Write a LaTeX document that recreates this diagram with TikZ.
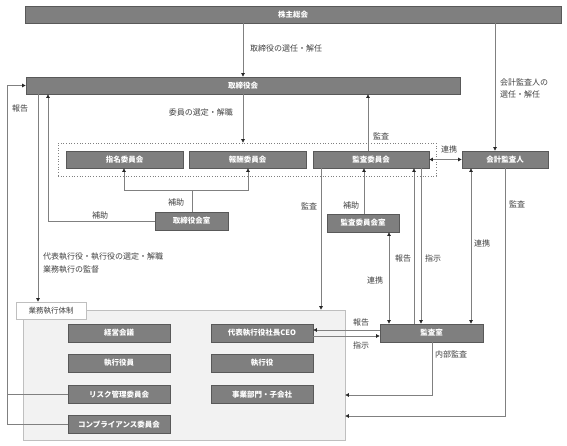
\documentclass[tikz,border=0pt]{standalone}
\usepackage{fontspec}
\setmainfont{Noto Sans CJK JP}
\usetikzlibrary{arrows.meta,calc}
\definecolor{boxfill}{HTML}{7F7F7F}
\definecolor{boxline}{HTML}{595959}
\definecolor{connc}{HTML}{808080}
\definecolor{txt}{HTML}{404040}
\definecolor{panelc}{HTML}{F2F2F2}
\definecolor{panelline}{HTML}{BFBFBF}
\begin{document}
\begin{tikzpicture}[x=1pt,y=-1pt,
  box/.style={draw=boxline, fill=boxfill, line width=0.8pt, text=white,
    font=\fontsize{7.5}{8}\selectfont\bfseries, inner sep=0pt, minimum height=17pt},
  lbl/.style={text=txt, font=\fontsize{8}{12.5}\selectfont, inner sep=0pt, anchor=west, align=left},
  conn/.style={draw=connc, line width=0.7pt},
  arr/.style={conn, -{Triangle[length=3.5pt,width=3.5pt,color=black!85]}},
  arrb/.style={conn, {Triangle[length=3.5pt,width=3.5pt,color=black!85]}-{Triangle[length=3.5pt,width=3.5pt,color=black!85]}}
]
\useasboundingbox (0,0) rectangle (567,446);

% column / row helper coordinates
\foreach \n/\x in {a/243, b/495, c/368, d/192, e/124, f/248, g/48, h/38, i/7, j/321, k/364, l/389, m/414, n/421, o/471, p/505, q/432}
  \coordinate (X\n) at (\x,0);
\foreach \y in {190,330,336,395,416}
  \coordinate (Y\y) at (0,\y);

% execution panel
\node[draw=panelline, fill=panelc, line width=0.7pt, minimum width=322pt, minimum height=130pt, inner sep=0pt] (panel) at (184,375) {};
\node[draw=panelline, fill=white, line width=0.7pt, minimum width=70pt, minimum height=17pt, inner sep=0pt,
  text=txt, font=\fontsize{7.5}{8}\selectfont] (panellbl) at (51,310.5) {業務執行体制};

% dotted committee frame
\node[draw=connc, dotted, line width=0.7pt, minimum width=378pt, minimum height=33pt, inner sep=0pt] (dot) at (247,159.5) {};

% boxes
\node[box, minimum width=536pt] (sh) at (293,14.5) {株主総会};
\node[box, minimum width=434pt] (tb) at (243,85.5) {取締役会};
\node[box, minimum width=117pt] (shimei) at (124.5,159.5) {指名委員会};
\node[box, minimum width=117pt] (hoshu) at (247.5,159.5) {報酬委員会};
\node[box, minimum width=116pt] (kansa) at (371,159.5) {監査委員会};
\node[box, minimum width=86pt] (kaikei) at (505,159.5) {会計監査人};
\node[box, minimum width=73pt, minimum height=18pt] (tbs) at (191.5,221) {取締役会室};
\node[box, minimum width=72pt, minimum height=18pt] (kis) at (363,223) {監査委員会室};
\node[box, minimum width=103pt, minimum height=18pt] (ks) at (431.5,333) {監査室};
\node[box, minimum width=102pt, minimum height=18pt] (keiei) at (119,333) {経営会議};
\node[box, minimum width=102pt, minimum height=18pt] (yakuin) at (119,363) {執行役員};
\node[box, minimum width=102pt, minimum height=18pt] (risk) at (119,394.5) {リスク管理委員会};
\node[box, minimum width=102pt, minimum height=18pt] (comp) at (119,424.5) {コンプライアンス委員会};
\node[box, minimum width=102pt, minimum height=18pt] (ceo) at (262,333) {代表執行役社長CEO};
\node[box, minimum width=102pt, minimum height=18pt] (yaku) at (262,363) {執行役};
\node[box, minimum width=102pt, minimum height=18pt] (jigyo) at (262,394.5) {事業部門・子会社};

% connectors
\draw[arr] (sh.south -| Xa) -- (tb.north -| Xa);
\draw[arr] (sh.south -| Xb) -- (kaikei.north -| Xb);
\draw[arr] (tb.south -| Xa) -- (dot.north -| Xa);
\draw[arr] (kansa.north -| Xc) -- (tb.south -| Xc);
\draw[arrb] (kansa.east) -- (kaikei.west);
\draw[conn] (tbs.north -| Xd) -- (Xd |- Y190);
\draw[arr] (Xf |- Y190) -- (Xe |- Y190) -- (shimei.south -| Xe);
\draw[arr] (Xd |- Y190) -- (Xf |- Y190) -- (hoshu.south -| Xf);
\draw[arr] (tbs.west) -| (tb.south -| Xg);
\draw[arr] (tb.south -| Xh) -- (panellbl.north -| Xh);
\draw[arr] (comp.west) -| (Xi |- tb.west) -- (tb.west);
\draw[conn] (risk.west) -- (risk.west -| Xi);
\draw[arr] (kansa.south -| Xj) -- (panel.north -| Xj);
\draw[arr] (kis.north -| Xk) -- (kansa.south -| Xk);
\draw[arrb] (kis.south -| Xl) -- (ks.north -| Xl);
\draw[arr] (ks.north -| Xm) -- (kansa.south -| Xm);
\draw[arr] (kansa.south -| Xn) -- (ks.north -| Xn);
\draw[arrb] (kaikei.south -| Xo) -- (ks.north -| Xo);
\draw[arr] (kaikei.south -| Xp) -- (Xp |- Y416) -- (panel.east |- Y416);
\draw[arr] (ks.south -| Xq) -- (Xq |- Y395) -- (panel.east |- Y395);
\draw[arr] (ks.west |- Y330) -- (ceo.east |- Y330);
\draw[arr] (ceo.east |- Y336) -- (ks.west |- Y336);

% labels
\node[lbl] (l1) at (250,48) {取締役の選任・解任};
\node[lbl] (l2) at (500,88.5) {会計監査人の\\選任・解任};
\node[lbl, anchor=east] (l3) at (233,112) {委員の選定・解職};
\node[lbl] (l4) at (373,136) {監査};
\node[lbl] (l5) at (441,149) {連携};
\node[lbl] (l6) at (168,202) {補助};
\node[lbl] (l7) at (92,215) {補助};
\node[lbl] (l8) at (43,263) {代表執行役・執行役の選定・解職\\業務執行の監督};
\node[lbl] (l9) at (12,108) {報告};
\node[lbl] (l10) at (301,206) {監査};
\node[lbl] (l11) at (343,205) {補助};
\node[lbl] (l12) at (367,280) {連携};
\node[lbl] (l13) at (395,258) {報告};
\node[lbl] (l14) at (425,258) {指示};
\node[lbl] (l15) at (474,243) {連携};
\node[lbl] (l16) at (509,204) {監査};
\node[lbl] (l17) at (435,354) {内部監査};
\node[lbl] (l18) at (353,322) {報告};
\node[lbl] (l19) at (353,345) {指示};
\end{tikzpicture}
\end{document}
